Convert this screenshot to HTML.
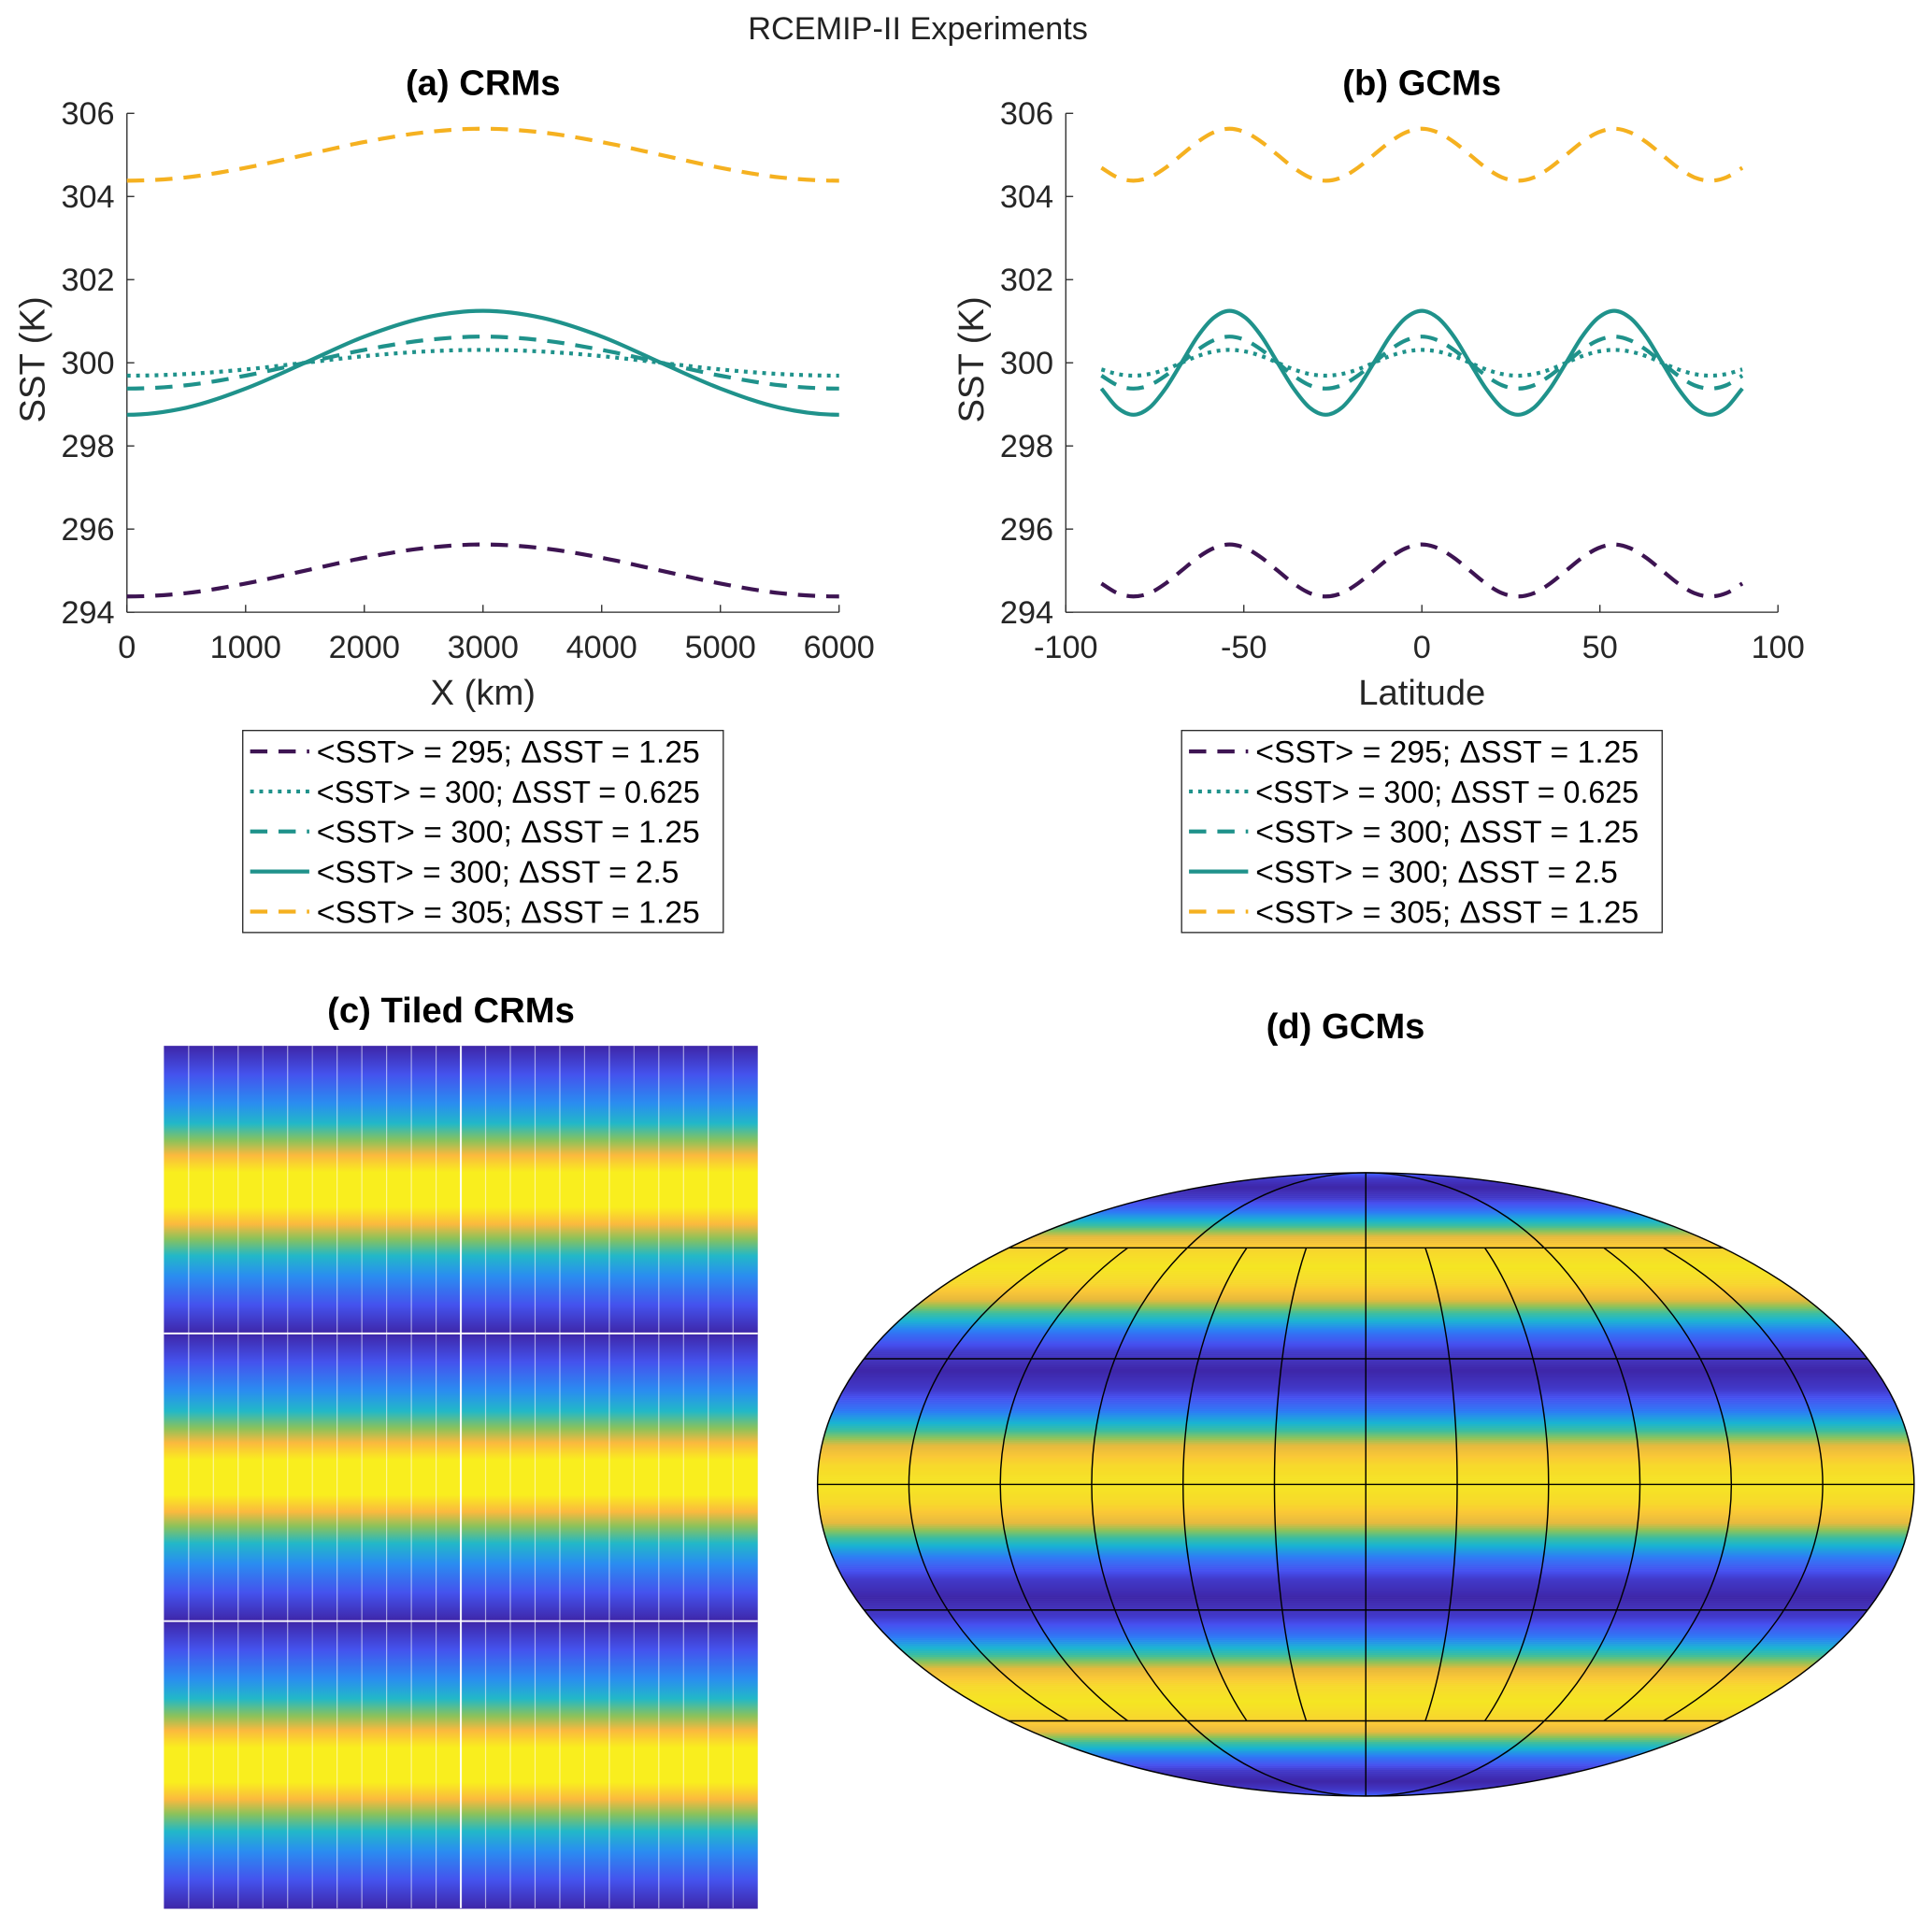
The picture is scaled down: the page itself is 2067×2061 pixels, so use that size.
<!DOCTYPE html>
<html><head><meta charset="utf-8"><style>
html,body{margin:0;padding:0;background:#fff;}
svg{display:block;font-family:"Liberation Sans",Arial,sans-serif;}
</style></head><body>
<svg id="fig" width="2067" height="2061" viewBox="0 0 1568 1563.5" xmlns="http://www.w3.org/2000/svg">
<defs>
<linearGradient id="tileGrad" x1="0" y1="0" x2="0" y2="1">
<stop offset="0" stop-color="#3e26a8"/><stop offset="0.1" stop-color="#4453ee"/>
<stop offset="0.2" stop-color="#2a8df0"/><stop offset="0.27" stop-color="#22b8c8"/>
<stop offset="0.33" stop-color="#8cc25a"/><stop offset="0.38" stop-color="#fbb93e"/>
<stop offset="0.44" stop-color="#f9ee1e"/><stop offset="0.56" stop-color="#f9ee1e"/>
<stop offset="0.62" stop-color="#fbb93e"/><stop offset="0.67" stop-color="#8cc25a"/>
<stop offset="0.73" stop-color="#22b8c8"/><stop offset="0.8" stop-color="#2a8df0"/>
<stop offset="0.9" stop-color="#4453ee"/><stop offset="1" stop-color="#3e26a8"/>
</linearGradient>
<clipPath id="ellClip"><ellipse cx="1108.5" cy="1205" rx="445" ry="253"/></clipPath>
</defs>
<text x="745" y="32" font-size="26" text-anchor="middle" fill="#222">RCEMIP-II Experiments</text>
<g id="pa"></g>
<g id="pb"></g>
<g id="pc"></g>
<g id="pd"></g>
</svg>
<script>
// ---- data ----
const xKm = [0,500,1000,1500,2000,2500,3000,3500,4000,4500,5000,5500,6000];
const crm295_125 = [294.38,294.46,294.69,295,295.31,295.54,295.63,295.54,295.31,295,294.69,294.46,294.38];
const crm300_0625 = [299.69,299.73,299.84,300,300.16,300.27,300.31,300.27,300.16,300,299.84,299.73,299.69];
const crm300_125 = [299.38,299.46,299.69,300,300.31,300.54,300.63,300.54,300.31,300,299.69,299.46,299.38];
const crm300_25 = [298.75,298.92,299.38,300,300.63,301.08,301.25,301.08,300.63,300,299.38,298.92,298.75];
const crm305_125 = [304.38,304.46,304.69,305,305.31,305.54,305.63,305.54,305.31,305,304.69,304.46,304.38];

const lat = [-90,-85.5,-81,-76.5,-72,-67.5,-63,-58.5,-54,-49.5,-45,-40.5,-36,-31.5,-27,-22.5,-18,-13.5,-9,-4.5,0,4.5,9,13.5,18,22.5,27,31.5,36,40.5,45,49.5,54,58.5,63,67.5,72,76.5,81,85.5,90];
const gcm295_125 = [294.69,294.46,294.38,294.46,294.69,295,295.31,295.54,295.63,295.54,295.31,295,294.69,294.46,294.38,294.46,294.69,295,295.31,295.54,295.63,295.54,295.31,295,294.69,294.46,294.38,294.46,294.69,295,295.31,295.54,295.63,295.54,295.31,295,294.69,294.46,294.38,294.46,294.69];
const gcm300_0625 = [299.84,299.73,299.69,299.73,299.84,300,300.16,300.27,300.31,300.27,300.16,300,299.84,299.73,299.69,299.73,299.84,300,300.16,300.27,300.31,300.27,300.16,300,299.84,299.73,299.69,299.73,299.84,300,300.16,300.27,300.31,300.27,300.16,300,299.84,299.73,299.69,299.73,299.84];
const gcm300_125 = [299.69,299.46,299.38,299.46,299.69,300,300.31,300.54,300.63,300.54,300.31,300,299.69,299.46,299.38,299.46,299.69,300,300.31,300.54,300.63,300.54,300.31,300,299.69,299.46,299.38,299.46,299.69,300,300.31,300.54,300.63,300.54,300.31,300,299.69,299.46,299.38,299.46,299.69];
const gcm300_25 = [299.38,298.92,298.75,298.92,299.38,300,300.63,301.08,301.25,301.08,300.63,300,299.38,298.92,298.75,298.92,299.38,300,300.63,301.08,301.25,301.08,300.63,300,299.38,298.92,298.75,298.92,299.38,300,300.63,301.08,301.25,301.08,300.63,300,299.38,298.92,298.75,298.92,299.38];
const gcm305_125 = [304.69,304.46,304.38,304.46,304.69,305,305.31,305.54,305.63,305.54,305.31,305,304.69,304.46,304.38,304.46,304.69,305,305.31,305.54,305.63,305.54,305.31,305,304.69,304.46,304.38,304.46,304.69,305,305.31,305.54,305.63,305.54,305.31,305,304.69,304.46,304.38,304.46,304.69];

const yTicks = [294,296,298,300,302,304,306];
const xTicksA = [0,1000,2000,3000,4000,5000,6000];
const xTicksB = [-100,-50,0,50,100];
const legendLabels = ["<SST> = 295; \u0394SST = 1.25","<SST> = 300; \u0394SST = 0.625","<SST> = 300; \u0394SST = 1.25","<SST> = 300; \u0394SST = 2.5","<SST> = 305; \u0394SST = 1.25"];

const NS="http://www.w3.org/2000/svg";
function mk(tag, attrs, parent){const e=document.createElementNS(NS,tag);for(const k in attrs)e.setAttribute(k,attrs[k]);if(parent)parent.appendChild(e);return e;}

const styles=[
 {c:"#3d1452",d:"14 9"},{c:"#1f928b",d:"3 4.5"},{c:"#1f928b",d:"14 9"},{c:"#1f928b",d:""},{c:"#f5b120",d:"14 9"}];

function smoothPath(px,py,mirror){
 const n=px.length;
 let d="M"+px[0].toFixed(2)+","+py[0].toFixed(2);
 for(let i=0;i<n-1;i++){
  const x0=i>0?px[i-1]:2*px[0]-px[1];
  const y0=i>0?py[i-1]:(mirror?py[1]:2*py[0]-py[1]);
  const x3=i+2<n?px[i+2]:2*px[n-1]-px[n-2];
  const y3=i+2<n?py[i+2]:(mirror?py[n-2]:2*py[n-1]-py[n-2]);
  const x1=px[i],y1=py[i],x2=px[i+1],y2=py[i+1];
  const c1x=x1+(x2-x0)/6,c1y=y1+(y2-y0)/6,c2x=x2-(x3-x1)/6,c2y=y2-(y3-y1)/6;
  d+=" C"+c1x.toFixed(2)+","+c1y.toFixed(2)+" "+c2x.toFixed(2)+","+c2y.toFixed(2)+" "+x2.toFixed(2)+","+y2.toFixed(2);
 }
 return d;
}

function linePanel(g, cfg){
 const yS=v=>497-(v-294)/(306-294)*(497-92);
 const xS=v=>cfg.x0+(v-cfg.xmin)/(cfg.xmax-cfg.xmin)*(cfg.x1-cfg.x0);
 const title=mk("text",{x:(cfg.x0+cfg.x1)/2,y:77,"font-size":29,"font-weight":"bold","text-anchor":"middle",fill:"#000"},g);
 title.textContent=cfg.title;
 
 
 const yAx=mk("line",{x1:cfg.x0,y1:92,x2:cfg.x0,y2:497,stroke:"#262626","stroke-width":1},g);
 
 
 const xAx=mk("line",{x1:cfg.x0,y1:497,x2:cfg.x1,y2:497,stroke:"#262626","stroke-width":1},g);
 
 
 yTicks.forEach(v=>{
  mk("line",{x1:cfg.x0,y1:yS(v),x2:cfg.x0+6,y2:yS(v),stroke:"#262626"},g);
  const t=mk("text",{x:cfg.x0-10,y:yS(v)+9,"font-size":26,"text-anchor":"end",fill:"#262626"},g);
  t.textContent=v;
  
  
 });
 cfg.xt.forEach(v=>{
  mk("line",{x1:xS(v),y1:497,x2:xS(v),y2:491,stroke:"#262626"},g);
  const t=mk("text",{x:xS(v),y:534,"font-size":26,"text-anchor":"middle",fill:"#262626"},g);
  t.textContent=v;
  
  
 });
 const yl=mk("text",{x:0,y:0,"font-size":29,"text-anchor":"middle",fill:"#262626",transform:"translate("+(cfg.x0-67)+",292) rotate(-90)"},g);
 yl.textContent="SST (K)";
 
 
 const xl=mk("text",{x:(cfg.x0+cfg.x1)/2,y:572,"font-size":29,"text-anchor":"middle",fill:"#262626"},g);
 xl.textContent=cfg.xlabel;
 
 
 cfg.series.forEach((s,i)=>{
  const p=mk("path",{d:smoothPath(cfg.xs.map(xS),s.map(yS),cfg.mirror),fill:"none",stroke:styles[i].c,"stroke-width":3.2},g);
  if(styles[i].d)p.setAttribute("stroke-dasharray",styles[i].d);
  
  
 });
 const lg=mk("g",{},g);
 
 
 mk("rect",{x:cfg.lx,y:593,width:390,height:164,fill:"#fff",stroke:"#262626","stroke-width":1},lg);
 legendLabels.forEach((lab,i)=>{
  const y=610+i*32.5;
  const e=mk("g",{},lg);
  
  
  const l=mk("line",{x1:cfg.lx+6,y1:y,x2:cfg.lx+54,y2:y,stroke:styles[i].c,"stroke-width":3.2},e);
  if(styles[i].d)l.setAttribute("stroke-dasharray",styles[i].d);
  const t=mk("text",{x:cfg.lx+60,y:y+9,"font-size":25,fill:"#000",textLength:lab.length>26?324:(lab.indexOf("2.5")>0?294:311),lengthAdjust:"spacingAndGlyphs"},e);
  t.textContent=lab;
 });
}

linePanel(document.getElementById("pa"),{title:"(a) CRMs",x0:103,x1:681,xmin:0,xmax:6000,xt:xTicksA,xlabel:"X (km)",xs:xKm,series:[crm295_125,crm300_0625,crm300_125,crm300_25,crm305_125],lx:197,mirror:true});
linePanel(document.getElementById("pb"),{title:"(b) GCMs",x0:865,x1:1443,xmin:-100,xmax:100,xt:xTicksB,xlabel:"Latitude",xs:lat,series:[gcm295_125,gcm300_0625,gcm300_125,gcm300_25,gcm305_125],lx:959,mirror:false});

// ---- panel c ----
(function(){
 const g=document.getElementById("pc");
 const t=mk("text",{x:366,y:830,"font-size":29,"font-weight":"bold","text-anchor":"middle",fill:"#000"},g);
 t.textContent="(c) Tiled CRMs";
 
 
 const tops=[849,1082.5,1316];
 tops.forEach(y0=>{
  const r=mk("rect",{x:133,y:y0,width:482,height:233.5,fill:"url(#tileGrad)"},g);
  
  
 });
 for(let i=1;i<24;i++){
  const x=133+i*482/24;
  mk("line",{x1:x,y1:849,x2:x,y2:1549,stroke:"#fff","stroke-width":i===12?1.6:0.9,"stroke-opacity":i===12?0.9:0.55},g);
 }
 [1082.5,1316].forEach(y=>mk("line",{x1:133,y1:y,x2:615,y2:y,stroke:"#fff","stroke-width":1.6,"stroke-opacity":0.9},g));
})();

// ---- panel d ----
(function(){
 const g=document.getElementById("pd");
 const t=mk("text",{x:1092,y:843,"font-size":29,"font-weight":"bold","text-anchor":"middle",fill:"#000"},g);
 t.textContent="(d) GCMs";
 
 
 const cx=1108.5,cy=1205,rx=445,ry=253;
 const stops=[[0,62,38,168],[0.15,70,80,240],[0.3,45,125,245],[0.45,25,180,210],[0.55,60,190,160],[0.65,140,195,90],[0.75,230,185,60],[0.85,250,200,55],[1,245,230,35]];
 function cmap(t){for(let i=0;i<stops.length-1;i++){const a=stops[i],b=stops[i+1];if(t<=b[0]){const f=(t-a[0])/(b[0]-a[0]);return "rgb("+[1,2,3].map(k=>Math.round(a[k]+(b[k]-a[k])*f)).join(",")+")";}}return "rgb(245,230,35)";}
 const sg=mk("g",{"clip-path":"url(#ellClip)"},g);
 
 
 for(let y=cy-ry;y<cy+ry;y+=1.5){
  const s=Math.max(-1,Math.min(1,(y+0.75-cy)/ry));
  const th=Math.asin(s);
  const la=Math.asin(Math.max(-1,Math.min(1,(2*th+Math.sin(2*th))/Math.PI)))*180/Math.PI;
  let k=0;while(k<lat.length-2&&lat[k+1]<la)k++;
  const f=(la-lat[k])/(lat[k+1]-lat[k]);
  const v=gcm300_25[k]+(gcm300_25[k+1]-gcm300_25[k])*f;
  const tt=Math.max(0,Math.min(1,(v-298.75)/2.5));
  mk("rect",{x:cx-rx,y:y,width:2*rx,height:1.7,fill:cmap(tt)},sg);
 }
 const gr=mk("g",{fill:"none",stroke:"#000","stroke-width":1.1},g);
 
 
 mk("ellipse",{cx:cx,cy:cy,rx:rx,ry:ry},gr);
 [0,102,192].forEach(o=>{
  const hw=rx*Math.sqrt(1-(o/ry)*(o/ry));
  mk("line",{x1:cx-hw,y1:cy-o,x2:cx+hw,y2:cy-o},gr);
  if(o)mk("line",{x1:cx-hw,y1:cy+o,x2:cx+hw,y2:cy+o},gr);
 });
 mk("line",{x1:cx,y1:cy-ry,x2:cx,y2:cy+ry},gr);
 [30,60,90,120,150].forEach(lon=>{
  const a=rx*lon/180;
  [-1,1].forEach(sgn=>{
   if(lon===90){
    mk("path",{d:`M${cx},${cy-ry} A${a},${ry} 0 0 ${sgn>0?1:0} ${cx},${cy+ry}`},gr);
   } else {
    const yo=192,xo=a*Math.sqrt(1-(yo/ry)*(yo/ry));
    mk("path",{d:`M${cx+sgn*xo},${cy-yo} A${a},${ry} 0 0 ${sgn>0?1:0} ${cx+sgn*xo},${cy+yo}`},gr);
   }
  });
 });
})();
</script>
</body></html>
